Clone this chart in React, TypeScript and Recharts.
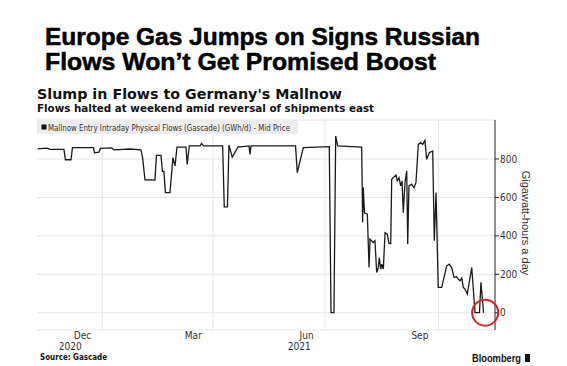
import { LineChart, Line, XAxis, YAxis, CartesianGrid, ReferenceLine, ReferenceDot } from 'recharts'

// day offsets from 1 Jan 2021 (negative = late 2020)
const days = [
  -52.5, -45.2, -42.5, -31.1, -29.9, -25.4, -24.2, -7.1, -6.3, -2.7,
  -1.5, 7.6, 9.5, 22.5, 31.4, 32.7, 34.7, 42.8, 44, 47.7,
  48.9, 50.1, 51.3, 55, 57.4, 59.1, 60.7, 68, 69, 70.7,
  79.4, 80.7, 82.2, 97.8, 99.1, 101.7, 102.9, 105.6, 110.2, 119.2,
  120, 120.8, 157, 158.4, 163.3, 184.4, 185.8, 188.2, 189.6, 191.2,
  210.7, 211.5, 212, 213, 215.3, 216.7, 217.5, 220.1, 221.5, 222.9,
  224.2, 225, 226.2, 227, 228.3, 229.7, 231.5, 232.9, 234.3, 235.1,
  236.4, 238.6, 239.6, 241, 242.4, 243.5, 244.5, 245.9, 247.3, 248.1,
  249.1, 251.3, 253.2, 254.8, 256.7, 258.7, 260.3, 262.1, 263.5, 265.6,
  268.4, 269.7, 271.1, 272.9, 275.7, 279.8, 281.9, 283.8, 285.7, 287.9,
  289.2, 290.6, 292, 293.3, 294.6, 296.5, 300.1, 302.8, 306.4, 307.6,
  309.7,
]

// GWh/d
const flows = [
  853, 857, 850, 850, 796, 796, 859, 859, 832, 836,
  855, 858, 848, 852, 848, 810, 692, 690, 819, 819,
  735, 735, 625, 625, 807, 764, 862, 862, 772, 868,
  868, 881, 868, 868, 551, 551, 873, 810, 862, 868,
  824, 868, 868, 729, 859, 864, 0, 0, 920, 868,
  862, 469, 651, 520, 513, 235, 383, 365, 374, 209,
  235, 287, 227, 253, 227, 417, 409, 360, 360, 694,
  703, 717, 686, 703, 660, 686, 521, 677, 738, 357,
  660, 669, 651, 677, 876, 885, 876, 897, 798, 833,
  842, 374, 625, 132, 132, 244, 253, 235, 184, 187,
  175, 166, 180, 132, 123, 97, 235, 0, 0, 158,
  0,
]

const monthTicks = [-16, 74, 166, 258]
const monthLabels = ['Dec', 'Mar', 'Jun', 'Sep']
const yearTicks = [-26, 160]
const yearLabels = ['2020', '2021']
const quarterStarts = [0, 90, 181, 273]
const flowTicks = [0, 200, 400, 600, 800]

const data = days.map((d, i) => ({ d, flow: flows[i] }))

const narrow = '"Liberation Sans Narrow", "DejaVu Sans Condensed", "Liberation Sans", sans-serif'
const verdanaish = '"DejaVu Sans", Verdana, sans-serif'
const arial = '"Liberation Sans", Arial, sans-serif'

export default function App() {
  return (
    <div style={{ position: 'absolute', left: 0, top: 0, width: 567, height: 366, background: '#fff' }}>
      <LineChart
        width={567}
        height={366}
        data={data}
        margin={{ top: 120, right: 0, bottom: 0, left: 37 }}
        style={{ position: 'absolute', left: 0, top: 0 }}
      >
        <CartesianGrid vertical={false} stroke="#e6e6e6" />
        {quarterStarts.map((q) => (
          <ReferenceLine key={q} x={q} stroke="#e6e6e6" />
        ))}
        <XAxis
          dataKey="d"
          type="number"
          domain={[-53, 319]}
          ticks={monthTicks}
          interval={0}
          tickFormatter={(v) => monthLabels[monthTicks.indexOf(v)]}
          axisLine={false}
          tickLine={false}
          tickSize={0}
          tickMargin={2}
          height={11}
          tick={{ fontSize: 10, fill: '#333', fontFamily: narrow }}
        />
        <XAxis
          xAxisId="yr"
          dataKey="d"
          type="number"
          domain={[-53, 319]}
          ticks={yearTicks}
          interval={0}
          tickFormatter={(v) => yearLabels[yearTicks.indexOf(v)]}
          axisLine={false}
          tickLine={false}
          tickSize={0}
          tickMargin={2}
          height={25}
          tick={{ fontSize: 10, fill: '#333', fontFamily: narrow }}
        />
        <YAxis
          orientation="right"
          domain={[-90, 1003]}
          ticks={flowTicks}
          interval={0}
          width={72}
          axisLine={{ stroke: '#222' }}
          tickLine={{ stroke: '#222' }}
          tickSize={4}
          tickMargin={1}
          tick={{ fontSize: 10, fill: '#333', fontFamily: narrow }}
        />
        <Line
          dataKey="flow"
          type="linear"
          stroke="#1a1a1a"
          strokeWidth={1.3}
          dot={false}
          isAnimationActive={false}
        />
        <ReferenceDot x={311} y={0} r={13} fill="none" stroke="#d7262b" strokeWidth={2} />
      </LineChart>

      <svg width={567} height={366} style={{ position: 'absolute', left: 0, top: 0, pointerEvents: 'none' }}>
        <g fontFamily={arial} fontWeight="bold" fontSize={24} fill="#000" stroke="#000" strokeWidth={0.5}>
          <text x={45} y={45} textLength={435} lengthAdjust="spacingAndGlyphs">Europe Gas Jumps on Signs Russian</text>
          <text x={45} y={69.5} textLength={391} lengthAdjust="spacingAndGlyphs">Flows Won’t Get Promised Boost</text>
        </g>
        <text x={37} y={98.5} fontFamily={verdanaish} fontWeight="bold" fontSize={13.5} fill="#111" textLength={305} lengthAdjust="spacingAndGlyphs">
          Slump in Flows to Germany's Mallnow
        </text>
        <text x={37} y={111.7} fontFamily={verdanaish} fontWeight="bold" fontSize={11} fill="#111" textLength={337} lengthAdjust="spacingAndGlyphs">
          Flows halted at weekend amid reversal of shipments east
        </text>
        <rect x={37} y={120} width={261} height={14} fill="#ededed" />
        <rect x={41.5} y={124.5} width={5} height={5} fill="#111" />
        <text x={48} y={130.5} fontFamily={narrow} fontSize={9} fill="#333" textLength={242} lengthAdjust="spacingAndGlyphs">
          Mallnow Entry Intraday Physical Flows (Gascade) (GWh/d) - Mid Price
        </text>
        <text transform="translate(526,223) rotate(90)" textAnchor="middle" dominantBaseline="central" fontFamily={arial} fontSize={11} fill="#333">
          Gigawatt-hours a day
        </text>
        <text x={40} y={360} fontFamily={verdanaish} fontWeight="bold" fontSize={8} fill="#111" textLength={67} lengthAdjust="spacingAndGlyphs">
          Source: Gascade
        </text>
        <text x={472} y={362} fontFamily={arial} fontWeight="bold" fontSize={11} fill="#111" textLength={49} lengthAdjust="spacingAndGlyphs">
          Bloomberg
        </text>
        <rect x={525} y={354} width={5} height={8} fill="#111" />
      </svg>
    </div>
  )
}
